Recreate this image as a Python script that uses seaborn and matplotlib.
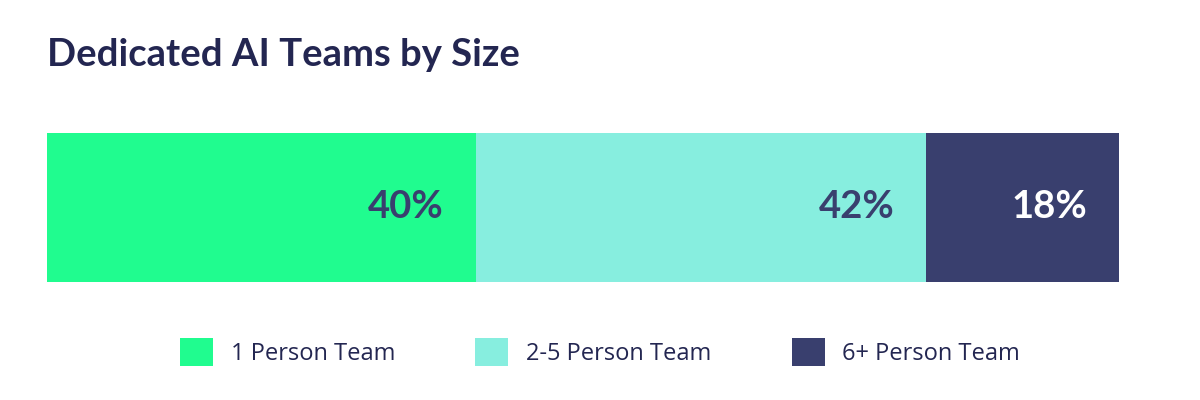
import matplotlib
matplotlib.use("Agg")
import matplotlib.pyplot as plt
import seaborn as sns
import numpy as np
import pandas as pd
from matplotlib.patches import Patch

categories = ["1 Person Team", "2-5 Person Team", "6+ Person Team"]
shares = [40, 42, 18]
colors = ["#20FC8F", "#87EEDF", "#393F6E"]
label_colors = ["#393F6E", "#393F6E", "#FFFFFF"]
title = "Dedicated AI Teams by Size"

sns.set_theme(style="white")
plt.rcParams["font.family"] = ["Lato", "DejaVu Sans"]

fig = plt.figure(figsize=(12, 4), dpi=100)
ax = fig.add_axes([47 / 1200, 1 - 282 / 400, (1119 - 47) / 1200, (282 - 133) / 400])

# stacked bar: draw cumulative totals, largest first
cum = np.cumsum(shares)
for i in reversed(range(len(categories))):
    df = pd.DataFrame({"group": ["all"], "value": [cum[i]]})
    sns.barplot(data=df, x="value", y="group", orient="h", color=colors[i],
                saturation=1, width=1.0, linewidth=0, edgecolor="none", ax=ax)

for i, end in enumerate(cum):
    ax.annotate(f"{shares[i]}%", xy=(end, 0), xytext=(-23, 0), textcoords="offset points",
                ha="right", va="center", fontsize=27.5, fontweight="bold",
                color=label_colors[i], family=["Lato", "DejaVu Sans"])

ax.set_xlim(0, 100)
ax.set_ylim(0.5, -0.5)
ax.set_xlabel("")
ax.set_ylabel("")
ax.set_xticks([])
ax.set_yticks([])
for s in ax.spines.values():
    s.set_visible(False)

fig.text(47 / 1200, 1 - 55 / 400, title, ha="left", va="center", fontsize=27.5,
         fontweight="bold", color="#232651")

handles = [Patch(facecolor=c, edgecolor="none") for c in colors]
leg = fig.legend(handles, categories, loc="center", bbox_to_anchor=(0.5, 1 - 352 / 400),
                 ncol=3, frameon=False, handlelength=1.4, handleheight=1.45,
                 handletextpad=0.75, columnspacing=3.4,
                 prop={"family": ["Open Sans", "DejaVu Sans"], "size": 17})
for t in leg.get_texts():
    t.set_color("#232651")

fig.savefig("out.png", dpi=100, facecolor="white")
